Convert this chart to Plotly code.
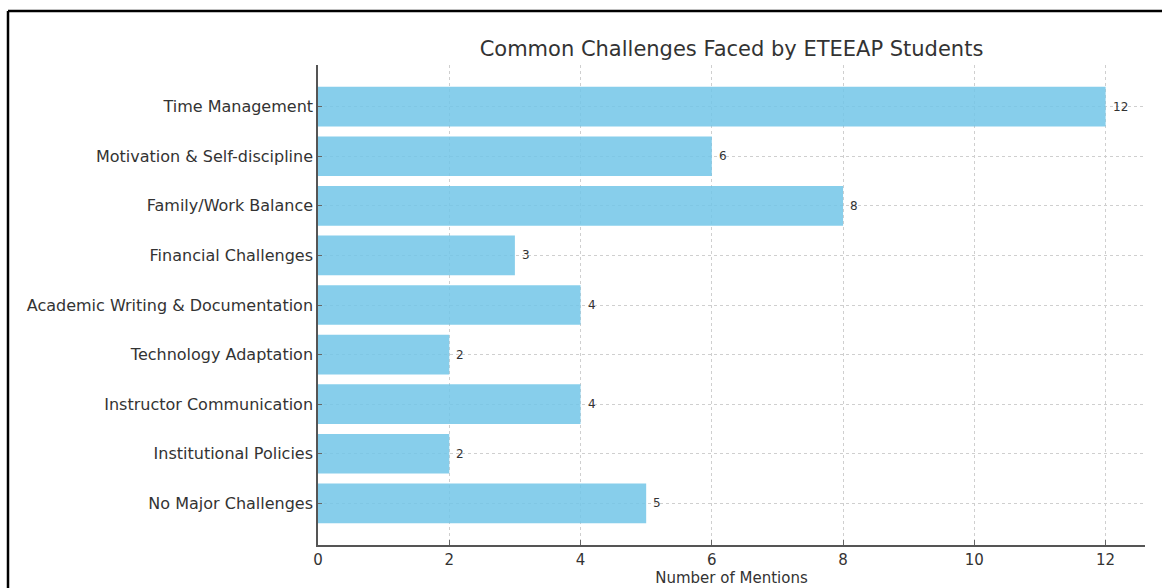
import plotly.graph_objects as go

categories = [
    "Time Management",
    "Motivation & Self-discipline",
    "Family/Work Balance",
    "Financial Challenges",
    "Academic Writing & Documentation",
    "Technology Adaptation",
    "Instructor Communication",
    "Institutional Policies",
    "No Major Challenges",
]
mentions = [12, 6, 8, 3, 4, 2, 4, 2, 5]
x_ticks = [0, 2, 4, 6, 8, 10, 12]

W, H = 1162, 588
L, R, T, B = 318, 17, 65, 43
pw, ph = W - L - R, H - T - B

fig = go.Figure()
fig.add_trace(go.Bar(
    x=mentions, y=categories, orientation="h",
    marker=dict(color="rgba(114,197,231,0.85)", line=dict(width=0)),
    width=0.8, hoverinfo="x+y",
))

for c, v in zip(categories, mentions):
    fig.add_annotation(x=v, y=c, text=str(v), showarrow=False,
                       xanchor="left", xshift=5,
                       font=dict(family="DejaVu Sans", size=12, color="#333"))

font = dict(family="DejaVu Sans", size=16, color="#333")
grid = dict(showgrid=True, gridcolor="#cfcfcf", griddash="dot", gridwidth=1)
fig.update_layout(
    width=W, height=H,
    margin=dict(l=L, r=R, t=T, b=B, autoexpand=False),
    paper_bgcolor="white", plot_bgcolor="white",
    showlegend=False,
    font=font,
    title=dict(text="Common Challenges Faced by ETEEAP Students",
               x=(L + pw / 2) / W, xanchor="center",
               y=1 - 49 / H, yanchor="middle",
               font=dict(family="DejaVu Sans", size=21, color="#333")),
    xaxis=dict(range=[0, 12.6], tickvals=x_ticks, **grid,
               showline=True, linecolor="#555", linewidth=1.5,
               ticks="inside", ticklen=5, tickcolor="#666",
               zeroline=False, tickfont=dict(family="DejaVu Sans", size=15, color="#333"),
               title=dict(text="Number of Mentions",
                          font=dict(family="DejaVu Sans", size=15, color="#333"),
                          standoff=4)),
    yaxis=dict(categoryorder="array", categoryarray=categories,
               autorange=False, range=[8.84, -0.84], **grid,
               showline=True, linecolor="#555", linewidth=1.5,
               ticks="inside", ticklen=4, tickcolor="#666",
               tickfont=font, zeroline=False),
)

# document frame around the figure
fx = (8 - L) / pw
fy = 1 + (T - 11) / ph
fig.add_shape(type="line", xref="paper", yref="paper",
              x0=fx, x1=fx, y0=fy, y1=-1, line=dict(color="black", width=2.5))
fig.add_shape(type="line", xref="paper", yref="paper",
              x0=fx, x1=1.2, y0=fy, y1=fy, line=dict(color="black", width=2.5))

fig.write_html("out.html")
